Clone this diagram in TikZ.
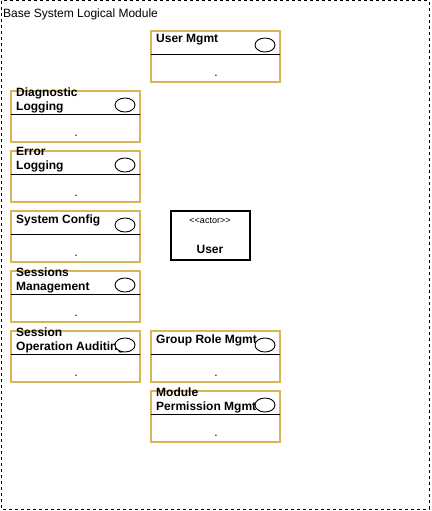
\documentclass[tikz,border=0pt]{standalone}
\usepackage{fontspec}
\setmainfont{Liberation Sans}
\usetikzlibrary{shapes.geometric}
\definecolor{modgold}{RGB}{214,182,86}
\tikzset{
  frameline/.style={draw=black, dash pattern=on 3pt off 3pt, line width=1pt},
  modbox/.style={draw=modgold, line width=2pt, fill=white, minimum width=129pt, minimum height=51pt, inner sep=0pt, outer sep=0pt, anchor=north west},
  divider/.style={draw=black, line width=0.9pt},
  modicon/.style={draw=black, fill=white, ellipse, minimum width=20pt, minimum height=14pt, inner sep=0pt, line width=0.9pt},
  modlabel/.style={font=\bfseries\fontsize{12}{14}\selectfont, align=left, anchor=west, inner sep=0pt},
  dotlabel/.style={font=\fontsize{12}{14}\selectfont, inner sep=0pt},
  actorbox/.style={draw=black, line width=2.2pt, minimum width=79pt, minimum height=49pt, inner sep=0pt, outer sep=0pt, anchor=north west},
}
\newcommand\modulebox[4]{%
  \node[modbox] (#1) at (#2+1,#3+1) {};
  \coordinate (#1-l) at (#2+1,#3+24.3);
  \coordinate (#1-r) at (#2+130,#3+24.3);
  \draw[divider] (#1-l) -- (#1-r);
  \node[modlabel] (#1-t) at (#2+6,#3+10) {#4};
  \node[modicon] (#1-i) at (#2+115,#3+15) {};
  \node[dotlabel] (#1-d) at (#2+66,#3+46) {.};
}
\begin{document}
\begin{tikzpicture}[x=1pt,y=-1pt]
\useasboundingbox (0,0) rectangle (431,511);
\coordinate (fa) at (1,1);
\coordinate (fb) at (429,509);
\draw[frameline] (fa) rectangle (fb);
\node[anchor=base west, font=\fontsize{12}{14}\selectfont, inner sep=0pt] (title) at (3,18) {Base System Logical Module};
\modulebox{um}{150}{30}{User Mgmt}
\modulebox{dl}{10}{90}{Diagnostic\\Logging}
\modulebox{el}{10}{150}{Error\\Logging}
\modulebox{sc}{10}{210}{System Config}
\modulebox{sm}{10}{270}{Sessions\\Management}
\modulebox{so}{10}{330}{Session\\Operation Auditing}
\modulebox{gr}{150}{330}{Group Role Mgmt}
\modulebox{mp}{150}{390}{Module\\Permission Mgmt}
\node[actorbox] (actor) at (171,211) {};
\node[font=\fontsize{9}{10}\selectfont, inner sep=0pt] (actor-s) at (210,221) {<\kern0pt<actor>\kern0pt>};
\node[font=\bfseries\fontsize{12}{14}\selectfont, inner sep=0pt] (actor-n) at (210,249) {User};
\end{tikzpicture}
\end{document}
